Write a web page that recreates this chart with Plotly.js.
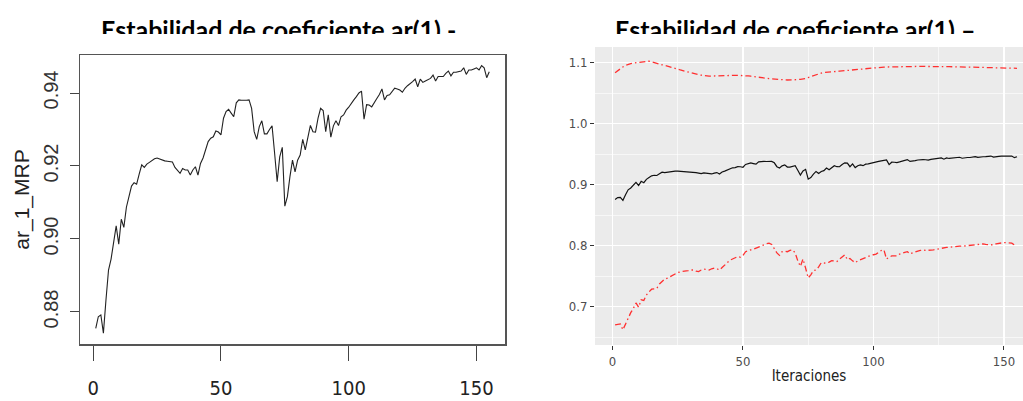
<!DOCTYPE html>
<html>
<head>
<meta charset="utf-8">
<script src="https://cdn.plot.ly/plotly-3.0.1.min.js"></script>
<style>
  html, body { margin: 0; padding: 0; background: #fff; }
  #wrap { position: relative; width: 1023px; height: 401px; overflow: hidden; }
  #chart { width: 1023px; height: 401px; }
  #clip { position: absolute; left: 0; top: 34px; width: 1023px; height: 12px; background: #fff; }
</style>
</head>
<body>
<div id="wrap">
  <div id="chart"></div>
  <div id="clip"></div>
</div>
<script>
// ---- data ----
const titles = ["Estabilidad de coeficiente ar(1) -", "Estabilidad de coeficiente ar(1) \u2013"];
const yLabelLeft = "ar_1_MRP";
const xLabelRight = "Iteraciones";

const ar1 = [
0.8755,0.8787,0.8792,0.8742,0.8833,0.8915,0.8945,0.8985,0.9036,0.8986,
0.9054,0.9032,0.9087,0.9116,0.9145,0.9154,0.9150,0.9178,0.9203,0.9196,
0.9205,0.9210,0.9215,0.9220,0.9222,0.9219,0.9215,0.9214,0.9213,0.9212,
0.9211,0.9196,0.9189,0.9180,0.9193,0.9189,0.9189,0.9175,0.9189,0.9198,
0.9175,0.9207,0.9222,0.9244,0.9267,0.9276,0.9280,0.9296,0.9293,0.9285,
0.9331,0.9349,0.9355,0.9345,0.9335,0.9373,0.9381,0.9380,0.9379,0.9380,
0.9381,0.9358,0.9294,0.9273,0.9308,0.9324,0.9288,0.9288,0.9300,0.9310,
0.9235,0.9157,0.9225,0.9251,0.9090,0.9116,0.9171,0.9216,0.9184,0.9216,
0.9230,0.9273,0.9244,0.9279,0.9311,0.9294,0.9293,0.9331,0.9358,0.9352,
0.9294,0.9340,0.9279,0.9310,0.9324,0.9311,0.9335,0.9340,0.9353,0.9361,
0.9373,0.9381,0.9390,0.9400,0.9405,0.9328,0.9368,0.9367,0.9362,0.9372,
0.9385,0.9396,0.9411,0.9381,0.9393,0.9395,0.9404,0.9413,0.9411,0.9408,
0.9402,0.9413,0.9420,0.9425,0.9431,0.9438,0.9417,0.9438,0.9429,0.9433,
0.9436,0.9440,0.9449,0.9433,0.9445,0.9445,0.9445,0.9454,0.9460,0.9447,
0.9457,0.9457,0.9458,0.9460,0.9469,0.9451,0.9463,0.9463,0.9466,0.9469,
0.9463,0.9475,0.9469,0.9442,0.9458
];

const upper = [
1.0836,1.0870,1.0900,1.0930,1.0955,1.0975,1.0985,1.0995,1.1000,1.1010,
1.1018,1.1025,1.1028,1.1025,1.1015,1.1000,1.0990,1.0978,1.0965,1.0955,
1.0945,1.0935,1.0925,1.0910,1.0895,1.0880,1.0868,1.0855,1.0842,1.0832,
1.0822,1.0812,1.0803,1.0795,1.0788,1.0782,1.0780,1.0780,1.0782,1.0785,
1.0790,1.0793,1.0795,1.0795,1.0795,1.0794,1.0793,1.0793,1.0793,1.0790,
1.0786,1.0782,1.0778,1.0774,1.0770,1.0764,1.0758,1.0750,1.0744,1.0738,
1.0733,1.0730,1.0727,1.0724,1.0721,1.0718,1.0716,1.0715,1.0716,1.0718,
1.0722,1.0727,1.0732,1.0738,1.0755,1.0772,1.0790,1.0806,1.0820,1.0830,
1.0838,1.0844,1.0848,1.0851,1.0854,1.0857,1.0861,1.0865,1.0868,1.0872,
1.0878,1.0885,1.0892,1.0898,1.0903,1.0907,1.0911,1.0915,1.0918,1.0921,
1.0923,1.0925,1.0927,1.0928,1.0929,1.0930,1.0931,1.0933,1.0934,1.0936,
1.0938,1.0940,1.0942,1.0944,1.0946,1.0945,1.0944,1.0942,1.0940,1.0938,
1.0936,1.0934,1.0934,1.0934,1.0934,1.0934,1.0934,1.0934,1.0934,1.0934,
1.0934,1.0934,1.0934,1.0934,1.0933,1.0932,1.0931,1.0930,1.0928,1.0926,
1.0924,1.0922,1.0920,1.0918,1.0916,1.0914,1.0913,1.0912,1.0911,1.0910,
1.0909,1.0909,1.0908,1.0908,1.0908
];

const lower = [
0.670,0.671,0.6716,0.662,0.672,0.683,0.690,0.697,0.706,0.699,
0.711,0.710,0.719,0.724,0.7285,0.729,0.730,0.737,0.741,0.745,
0.7466,0.749,0.751,0.754,0.7557,0.757,0.7574,0.758,0.759,0.760,
0.760,0.758,0.7574,0.760,0.7613,0.761,0.760,0.762,0.763,0.762,
0.760,0.764,0.768,0.772,0.776,0.778,0.780,0.782,0.781,0.784,
0.790,0.792,0.793,0.794,0.796,0.798,0.800,0.801,0.803,0.804,
0.802,0.795,0.788,0.784,0.790,0.791,0.790,0.792,0.793,0.788,
0.775,0.766,0.778,0.763,0.747,0.752,0.759,0.760,0.765,0.772,
0.772,0.771,0.773,0.7754,0.775,0.7738,0.778,0.782,0.785,0.777,
0.779,0.775,0.772,0.775,0.777,0.779,0.780,0.782,0.784,0.785,
0.786,0.789,0.792,0.793,0.778,0.781,0.783,0.783,0.783,0.786,
0.788,0.789,0.790,0.7864,0.788,0.790,0.791,0.792,0.793,0.792,
0.792,0.793,0.793,0.794,0.795,0.7957,0.796,0.797,0.7974,0.798,
0.798,0.7984,0.799,0.799,0.7995,0.800,0.800,0.801,0.801,0.802,
0.802,0.8028,0.802,0.802,0.801,0.8011,0.803,0.804,0.804,0.805,
0.805,0.805,0.804,0.801,0.802
];

const iter = ar1.map((_, i) => i + 1);

// ---- traces ----
const traces = [
  { x: iter, y: ar1, xaxis: 'x', yaxis: 'y', type: 'scatter', mode: 'lines',
    line: { color: '#222', width: 1.1 }, hoverinfo: 'skip' },
  { x: iter, y: upper, xaxis: 'x2', yaxis: 'y2', type: 'scatter', mode: 'lines',
    line: { color: '#ff3030', width: 1.3, dash: '6px,3px,1.5px,3px' }, hoverinfo: 'skip' },
  { x: iter, y: lower, xaxis: 'x2', yaxis: 'y2', type: 'scatter', mode: 'lines',
    line: { color: '#ff3030', width: 1.3, dash: '6px,3px,1.5px,3px' }, hoverinfo: 'skip' },
  { x: iter, y: ar1, xaxis: 'x2', yaxis: 'y2', type: 'scatter', mode: 'lines',
    line: { color: '#111', width: 1.2 }, hoverinfo: 'skip' }
];

const W = 1023, H = 401;
const leftX = [80 / W, 505 / W];
const leftY = [(H - 344) / H, (H - 55) / H];
const rightX = [595 / W, 1];
const rightY = [(H - 345) / H, (H - 47) / H];
const narrow = 'DejaVu Sans Condensed, Liberation Sans Narrow, Liberation Sans, sans-serif';

const layout = {
  width: W, height: H,
  margin: { l: 0, r: 0, t: 0, b: 0 },
  paper_bgcolor: '#fff',
  plot_bgcolor: 'rgba(0,0,0,0)',
  showlegend: false,
  font: { family: 'Liberation Sans, Arial, sans-serif' },
  xaxis: {
    domain: leftX, range: [-5.16, 161.16], anchor: 'y',
    tick0: 0, dtick: 50, ticks: 'outside', ticklen: 15, tickwidth: 1, tickcolor: '#444',
    showline: true, mirror: true, linecolor: '#555', linewidth: 1.5,
    showgrid: false, zeroline: false, ticklabelstandoff: 10,
    tickfont: { family: narrow, size: 20, color: '#222' }
  },
  yaxis: {
    domain: leftY, range: [0.87123, 0.95041], anchor: 'x',
    tick0: 0.88, dtick: 0.02, tickformat: '.2f', tickangle: -90,
    ticks: 'outside', ticklen: 9, tickwidth: 1, tickcolor: '#444',
    showline: true, mirror: true, linecolor: '#555', linewidth: 1.5,
    showgrid: false, zeroline: false, ticklabelstandoff: 4,
    tickfont: { family: 'Liberation Sans, Arial, sans-serif', size: 20, color: '#333' },
    title: { text: yLabelLeft, font: { size: 21, color: '#222' }, standoff: 4 }
  },
  xaxis2: {
    domain: rightX, range: [-6.7, 157.3], anchor: 'y2',
    tick0: 0, dtick: 50, ticks: 'outside', ticklen: 4, tickwidth: 1, tickcolor: '#333',
    showline: false, zeroline: false,
    showgrid: true, gridcolor: '#fff', gridwidth: 1.3,
    minor: { dtick: 25, showgrid: true, gridcolor: '#fff', gridwidth: 0.6, ticks: '' },
    tickfont: { family: narrow, size: 13, color: '#4d4d4d' },
    title: { text: xLabelRight, font: { family: narrow, size: 15, color: '#222' }, standoff: 2 }
  },
  yaxis2: {
    domain: rightY, range: [0.637, 1.1257], anchor: 'x2',
    tick0: 0.7, dtick: 0.1, tickformat: '.1f',
    ticks: 'outside', ticklen: 4, tickwidth: 1, tickcolor: '#333',
    showline: false, zeroline: false,
    showgrid: true, gridcolor: '#fff', gridwidth: 1.3,
    minor: { dtick: 0.05, showgrid: true, gridcolor: '#fff', gridwidth: 0.6, ticks: '' },
    tickfont: { family: narrow, size: 13, color: '#4d4d4d' }
  },
  shapes: [
    { type: 'rect', xref: 'paper', yref: 'paper', x0: rightX[0], x1: rightX[1], y0: rightY[0], y1: rightY[1],
      fillcolor: '#ebebeb', line: { width: 0 }, layer: 'below' }
  ],
  annotations: [
    { text: '<b>' + titles[0] + '</b>', xref: 'paper', yref: 'paper', x: 278 / W, y: 1 - 12 / H,
      xanchor: 'center', yanchor: 'top', showarrow: false,
      font: { family: 'Lato, Open Sans, sans-serif', size: 25, color: '#000' } },
    { text: '<b>' + titles[1] + '</b>', xref: 'paper', yref: 'paper', x: 795 / W, y: 1 - 12 / H,
      xanchor: 'center', yanchor: 'top', showarrow: false,
      font: { family: 'Lato, Open Sans, sans-serif', size: 25, color: '#000' } }
  ]
};

Plotly.newPlot('chart', traces, layout, { staticPlot: true, displayModeBar: false });
</script>
</body>
</html>
